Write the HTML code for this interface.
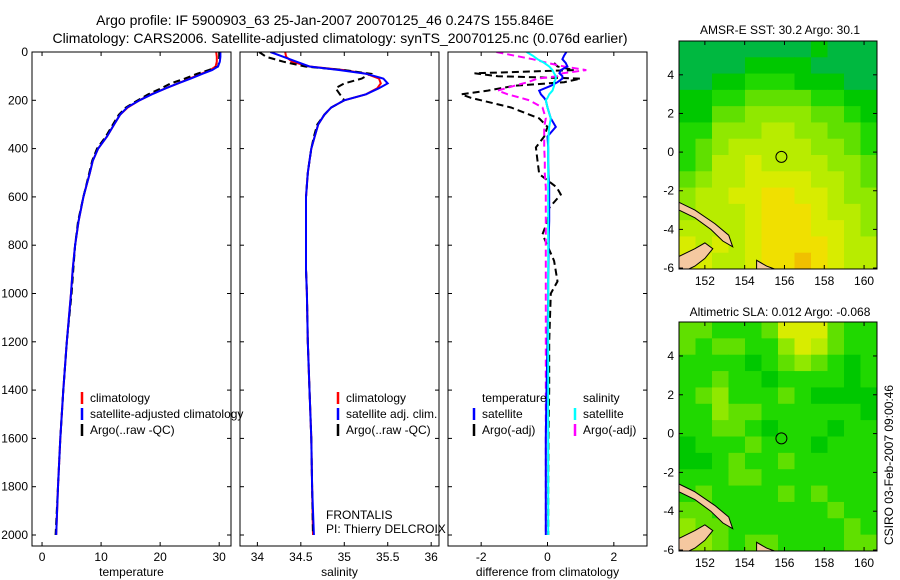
<!DOCTYPE html>
<html><head><meta charset="utf-8"><style>
body{margin:0;background:#fff}
svg{display:block;font-family:"Liberation Sans",sans-serif}
</style></head><body>
<svg id="fig" width="900" height="580" xmlns="http://www.w3.org/2000/svg">
<rect width="900" height="580" fill="#fff"/>
<text x="325" y="25" font-size="14" text-anchor="middle">Argo profile: IF 5900903_63 25-Jan-2007 20070125_46 0.247S 155.846E</text>
<text x="340" y="43" font-size="14" text-anchor="middle">Climatology: CARS2006. Satellite-adjusted climatology: synTS_20070125.nc (0.076d earlier)</text>
<text x="780" y="34" font-size="12" text-anchor="middle">AMSR-E SST: 30.2  Argo: 30.1</text>
<text x="780" y="316" font-size="12" text-anchor="middle">Altimetric SLA: 0.012  Argo: -0.068</text>
<text transform="translate(893,465) rotate(-90)" font-size="12" text-anchor="middle">CSIRO 03-Feb-2007 09:00:46</text>
<g id="plots"></g>
</svg>
<script>
const depths=[0,20,40,60,75,90,110,130,150,175,200,230,260,300,350,400,450,500,600,700,800,900,1000,1200,1400,1600,1800,2000];
const tempClim=[29.5,29.6,29.6,29.4,28.5,27,25,23,21,18.5,16.5,14.5,13.2,12.2,11,9.5,8.6,8.1,7,6.2,5.6,5.2,4.9,4.2,3.6,3.1,2.7,2.4];
const tempSat=[30.2,30.2,30.1,29.8,28.8,27.2,25.2,23,21,18.6,16.5,14.4,13.2,12.2,11,9.5,8.6,8.1,7,6.2,5.6,5.2,4.9,4.2,3.6,3.1,2.7,2.4];
const tempArgo=[30.0,30.0,30.0,29.8,28.2,26.3,24.2,21.8,20.2,18,16.2,14.2,13,12,10.8,9.3,8.5,8,7,6.1,5.6,5.3,5,4.2,3.6,3.1,2.7,2.3];
const salClim=[34.32,34.33,34.4,34.6,35.0,35.25,35.4,35.42,35.38,35.25,35.0,34.85,34.77,34.7,34.66,34.62,34.6,34.58,34.56,34.56,34.56,34.56,34.57,34.58,34.6,34.62,34.63,34.64];
const salSat=[34.15,34.3,34.45,34.6,34.95,35.25,35.45,35.5,35.4,35.25,35.0,34.85,34.77,34.7,34.66,34.62,34.6,34.58,34.56,34.56,34.56,34.56,34.57,34.58,34.6,34.62,34.63,34.65];
const salArgo=[34.02,34.1,34.3,34.55,35.0,35.3,35.2,35.0,34.9,34.95,35.0,34.85,34.77,34.69,34.65,34.62,34.6,34.58,34.56,34.56,34.56,34.56,34.57,34.58,34.6,34.62,34.63,34.64];
const diffDepths=[0,15,30,45,60,75,88,100,110,125,140,160,175,190,200,230,275,310,350,395,450,505,560,590,645,700,755,865,950,1000,1200,1400,1600,1800,2000];
const dTempSat=[0.57,0.5,0.45,0.55,0.6,0.4,0.36,0.45,0.45,0.3,0.1,-0.25,-0.2,-0.1,-0.05,0,0.1,0.25,0,0.02,0.02,0.03,0.05,0.05,0.05,0.05,0.04,0.03,0.02,0.02,0,-0.03,-0.05,-0.05,-0.05];
const dTempArgo=[null,null,null,0.2,0.3,0.8,-2.2,-1.5,1.0,0.5,-1.0,-1.8,-2.6,-2.3,-2.0,-1.1,-0.25,0,-0.1,-0.35,-0.3,-0.25,0.27,0.4,0.05,0,-0.15,0.2,0.3,0.1,0.05,0.05,0.03,0.02,0.02];
const dSalSat=[-0.63,-0.45,-0.3,-0.1,0.05,0.15,0.2,0.25,0.25,0.2,0.2,0.15,0.05,0,-0.05,0,0.1,0.05,0.03,0.02,0.02,0.02,0.02,0.02,0.02,0.02,0.02,0.02,0.02,0.02,0.02,0.02,0.02,0.02,0.02];
const dSalArgo=[-1.54,-1.0,-0.45,0,0.5,1.17,0.45,0.3,-0.3,-0.6,-1.0,-1.5,-1.2,-0.8,-0.55,-0.15,-0.05,-0.1,-0.1,-0.1,-0.08,-0.08,-0.05,-0.05,-0.05,-0.05,-0.05,-0.05,-0.05,-0.05,-0.05,-0.05,-0.05,-0.05,-0.05];
const depthTicks=[0,200,400,600,800,1000,1200,1400,1600,1800,2000];
const tempTicks=[0,10,20,30];
const salTicks=[34,34.5,35,35.5,36];
const diffTicks=[-2,0,2];
const lonTicks=[152,154,156,158,160];
const latTicks=[4,2,0,-2,-4,-6];
const argoLon=155.846, argoLat=-0.247;
const palette=["#00a858","#00b840","#00c800","#20d800","#60e000","#90e800","#b8ec00","#d8ec00","#f0e000","#f0c000"];
const sstGrid=["111111112111","111122221111","112233322211","223344443322","224455554432","335556655443","345666665543","346676666554","456677776654","566778877655","566678887665","666678887765","767678888766","776678898766"];
const slaGrid=["443334777433","434433576433","333323454323","334332333323","345333432222","335443333332","334432333233","233343332333","223433433333","333443333333","343333434333","443333333433","544333333343","554344333344"];

const NS="http://www.w3.org/2000/svg";
const root=document.getElementById('plots');
function mk(tag,attrs,parent){const e=document.createElementNS(NS,tag);for(const k in attrs)e.setAttribute(k,attrs[k]);(parent||root).appendChild(e);return e;}
function txt(x,y,s,size,anchor,parent){const t=mk('text',{x:x,y:y,'font-size':size,'text-anchor':anchor||'middle'},parent);t.textContent=s;return t;}

const PY0=52,PY1=546;
function yD(d){return PY0+d*0.2415;}
function panel(name,x0,x1,vmin,vmax,xticks,xlabel,showY){
  const g=mk('g',{});
  
  
  const xs=v=>x0+(v-vmin)/(vmax-vmin)*(x1-x0);
  const clip=mk('clipPath',{id:'clip-'+name},g);mk('rect',{x:x0,y:PY0,width:x1-x0,height:PY1-PY0},clip);
  const inner=mk('g',{'clip-path':'url(#clip-'+name+')'},g);
  mk('rect',{x:x0,y:PY0,width:x1-x0,height:PY1-PY0,fill:'none',stroke:'#000','stroke-width':1},g);
  depthTicks.forEach(d=>{const y=yD(d);
    mk('line',{x1:x0,y1:y,x2:x0+4,y2:y,stroke:'#000'},g);mk('line',{x1:x1,y1:y,x2:x1-4,y2:y,stroke:'#000'},g);
    if(showY){const t=txt(x0-4,y+4,String(d),12,'end',g);}});
  xticks.forEach(v=>{const x=xs(v);
    mk('line',{x1:x,y1:PY0,x2:x,y2:PY0+4,stroke:'#000'},g);mk('line',{x1:x,y1:PY1,x2:x,y2:PY1-4,stroke:'#000'},g);
    const t=txt(x,PY1+15,String(v),12,'middle',g);});
  const xl=txt((x0+x1)/2,PY1+30,xlabel,12,'middle',g);
  
  
  return {g,inner,xs};
}
function line(p,dep,vals,color,dash,w,name){
  let d='',pen=false;
  vals.forEach((v,i)=>{if(v===null){pen=false;return;}d+=(pen?'L':'M')+p.xs(v).toFixed(1)+','+yD(dep[i]).toFixed(1);pen=true;});
  const e=mk('path',{d:d,fill:'none',stroke:color,'stroke-width':w,'stroke-dasharray':dash||'none'},p.inner);
  
  
}
function legend(p,x,y,items){
  items.forEach((it,i)=>{
    const yy=y+i*16;
    if(it[1])mk('line',{x1:x,y1:yy-10,x2:x,y2:yy+2,stroke:it[1],'stroke-width':2.5},p.g);
    const t=txt(x+8,yy,it[0],12,'start',p.g);
    
    
  });
}
const p1=panel('temperature-panel',32,231,-1.7,32.0,tempTicks,'temperature',true);
line(p1,depths,tempClim,'#f00','',2,'temp-climatology-line');
line(p1,depths,tempArgo,'#000','7,4',2,'temp-argo-line');
line(p1,depths,tempSat,'#00f','',2,'temp-satellite-line');
legend(p1,82,402,[['climatology','#f00'],['satellite-adjusted climatology','#00f'],['Argo(..raw -QC)','#000']]);
const p2=panel('salinity-panel',240,439,33.8,36.09,salTicks,'salinity',false);
line(p2,depths,salClim,'#f00','',2,'sal-climatology-line');
line(p2,depths,salArgo,'#000','7,4',2,'sal-argo-line');
line(p2,depths,salSat,'#00f','',2,'sal-satellite-line');
legend(p2,338,402,[['climatology','#f00'],['satellite adj. clim.','#00f'],['Argo(..raw -QC)','#000']]);
const f1=txt(326,519,'FRONTALIS',12,'start');
const f2=txt(326,533,'PI: Thierry DELCROIX',12,'start');
const p3=panel('difference-panel',448,647,-3.0,3.0,diffTicks,'difference from climatology',false);
line(p3,diffDepths,dTempArgo,'#000','7,4',2,'diff-temp-argo-line');
line(p3,diffDepths,dSalArgo,'#f0f','7,4',2,'diff-sal-argo-line');
line(p3,diffDepths,dTempSat,'#00f','',2,'diff-temp-satellite-line');
line(p3,diffDepths,dSalSat,'#0ff','',2,'diff-sal-satellite-line');
legend(p3,474,402,[['temperature',null],['satellite','#00f'],['Argo(-adj)','#000']]);
legend(p3,575,402,[['salinity',null],['satellite','#0ff'],['Argo(-adj)','#f0f']]);

const LON0=150.7,LON1=160.65,LAT0=5.75,LAT1=-6.05;
function map(name,x0,y0,x1,y1,grid){
  const g=mk('g',{});
  
  
  const xs=l=>x0+(l-LON0)/(LON1-LON0)*(x1-x0);
  const ys=l=>y0+(l-LAT0)/(LAT1-LAT0)*(y1-y0);
  const rows=grid.length,cols=grid[0].length,cw=(x1-x0)/cols,ch=(y1-y0)/rows;
  grid.forEach((row,r)=>{for(let c=0;c<cols;c++){
    const cell=mk('rect',{x:(x0+c*cw).toFixed(2),y:(y0+r*ch).toFixed(2),width:(cw+0.5).toFixed(2),height:(ch+0.5).toFixed(2),fill:palette[+row[c]]},g);
    
    }});
  const lands=[[[150.7,-2.6],[151.5,-3.0],[152.5,-3.7],[153.2,-4.3],[153.4,-4.9],[152.9,-4.6],[152.3,-4.0],[151.5,-3.4],[150.7,-3.0]],
    [[150.7,-6.05],[150.7,-5.4],[151.5,-5.0],[152.0,-4.7],[152.4,-5.0],[152.0,-5.5],[151.5,-5.9],[151.2,-6.05]],
    [[154.6,-6.05],[154.6,-5.6],[155.1,-5.9],[155.5,-6.05]]];
  lands.forEach(pts=>{const l=mk('polygon',{points:pts.map(p=>xs(p[0]).toFixed(1)+','+ys(p[1]).toFixed(1)).join(' '),fill:'#f5c8a0',stroke:'#000','stroke-width':1},g);
    });
  const m=mk('circle',{cx:xs(argoLon),cy:ys(argoLat),r:5.5,fill:'none',stroke:'#000','stroke-width':1},g);
  
  
  mk('rect',{x:x0,y:y0,width:x1-x0,height:y1-y0,fill:'none',stroke:'#000'},g);
  lonTicks.forEach(v=>{const x=xs(v);mk('line',{x1:x,y1:y1,x2:x,y2:y1-4,stroke:'#000'},g);mk('line',{x1:x,y1:y0,x2:x,y2:y0+4,stroke:'#000'},g);
    const t=txt(x,y1+16,String(v),12,'middle',g);});
  latTicks.forEach(v=>{const y=ys(v);mk('line',{x1:x0,y1:y,x2:x0+4,y2:y,stroke:'#000'},g);mk('line',{x1:x1,y1:y,x2:x1-4,y2:y,stroke:'#000'},g);
    const t=txt(x0-5,y+4,String(v),12,'end',g);});
}
map('sst-map',679,41,877,269,sstGrid);
map('sla-map',679,322,877,551,slaGrid);
</script>
</body></html>
